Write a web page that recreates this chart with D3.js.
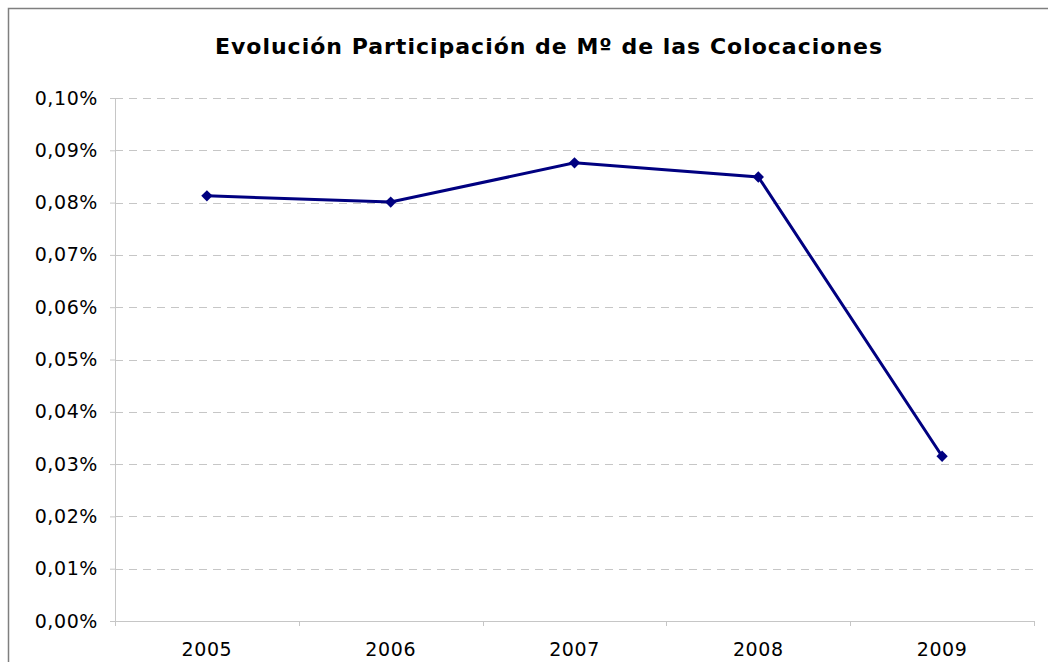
<!DOCTYPE html>
<html>
<head>
<meta charset="utf-8">
<script src="https://cdn.jsdelivr.net/npm/d3@7"></script>
<style>
  body { margin: 0; background: #fff; }
  svg { display: block; }
</style>
</head>
<body>
<div id="chart"></div>
<script>
const years = ['2005', '2006', '2007', '2008', '2009'];
const shares = [0.0813, 0.0801, 0.0876, 0.0849, 0.0315]; // percent values
const yTicks = [0, 0.01, 0.02, 0.03, 0.04, 0.05, 0.06, 0.07, 0.08, 0.09, 0.10];
const chartTitle = 'Evolución Participación de Mº de las Colocaciones';

const W = 1048, H = 662;
const margin = {top: 98, right: 14, bottom: 41, left: 115};
const width = W - margin.left - margin.right;
const height = H - margin.top - margin.bottom;
const font = 'DejaVu Sans, Verdana, sans-serif';

const svg = d3.select('#chart').append('svg')
  .attr('width', W)
  .attr('height', H);

// outer chart border (runs past the right and bottom edge)
svg.append('rect')
  .attr('x', 8.5).attr('y', 8.5)
  .attr('width', 1100).attr('height', 700)
  .attr('fill', 'none')
  .attr('stroke', '#7f7f7f')
  .attr('stroke-width', 1.5);

svg.append('text')
  .attr('x', 549).attr('y', 54)
  .attr('text-anchor', 'middle')
  .attr('font-family', font)
  .attr('font-weight', 'bold')
  .attr('font-size', 22)
  .attr('letter-spacing', 1)
  .attr('fill', '#000')
  .text(chartTitle);

const g = svg.append('g')
  .attr('transform', `translate(${margin.left},${margin.top})`);

const x = d3.scaleBand().domain(years).range([0, width]);
const y = d3.scaleLinear().domain([0, 0.10]).range([height, 0]);

// gridlines
g.append('g')
  .selectAll('line')
  .data(yTicks.filter(d => d > 0))
  .join('line')
  .attr('x1', 0).attr('x2', width)
  .attr('y1', d => Math.round(y(d)) + 0.5)
  .attr('y2', d => Math.round(y(d)) + 0.5)
  .attr('stroke', '#c6c6c6')
  .attr('stroke-dasharray', '8,6');

const fmt = d => d.toFixed(2).replace('.', ',') + '%';

const yAxis = g.append('g')
  .call(d3.axisLeft(y).tickValues(yTicks).tickFormat(fmt).tickSize(5).tickPadding(12));

const xAxis = g.append('g')
  .attr('transform', `translate(0,${height})`)
  .call(d3.axisBottom(x).tickSize(0).tickPadding(22));

// category boundary ticks on x axis
g.append('g')
  .selectAll('line')
  .data(d3.range(years.length + 1))
  .join('line')
  .attr('x1', i => Math.round(i * x.step()) + 0.5)
  .attr('x2', i => Math.round(i * x.step()) + 0.5)
  .attr('y1', height).attr('y2', height + 5)
  .attr('stroke', '#c6c6c6');

[yAxis, xAxis].forEach(a => {
  a.select('.domain').attr('stroke', '#c6c6c6');
  a.selectAll('.tick line').attr('stroke', '#c6c6c6');
  a.selectAll('text')
    .attr('font-family', font)
    .attr('font-size', 19)
    .attr('letter-spacing', 0.6)
    .attr('fill', '#000');
});

const line = d3.line()
  .x((d, i) => x(years[i]) + x.bandwidth() / 2)
  .y(d => y(d));

g.append('path')
  .datum(shares)
  .attr('fill', 'none')
  .attr('stroke', '#000080')
  .attr('stroke-width', 3)
  .attr('d', line);

g.selectAll('.pt')
  .data(shares)
  .join('path')
  .attr('class', 'pt')
  .attr('d', d3.symbol(d3.symbolSquare, 64))
  .attr('transform', (d, i) => `translate(${x(years[i]) + x.bandwidth() / 2},${y(d)}) rotate(45)`)
  .attr('fill', '#000080');
</script>
</body>
</html>
